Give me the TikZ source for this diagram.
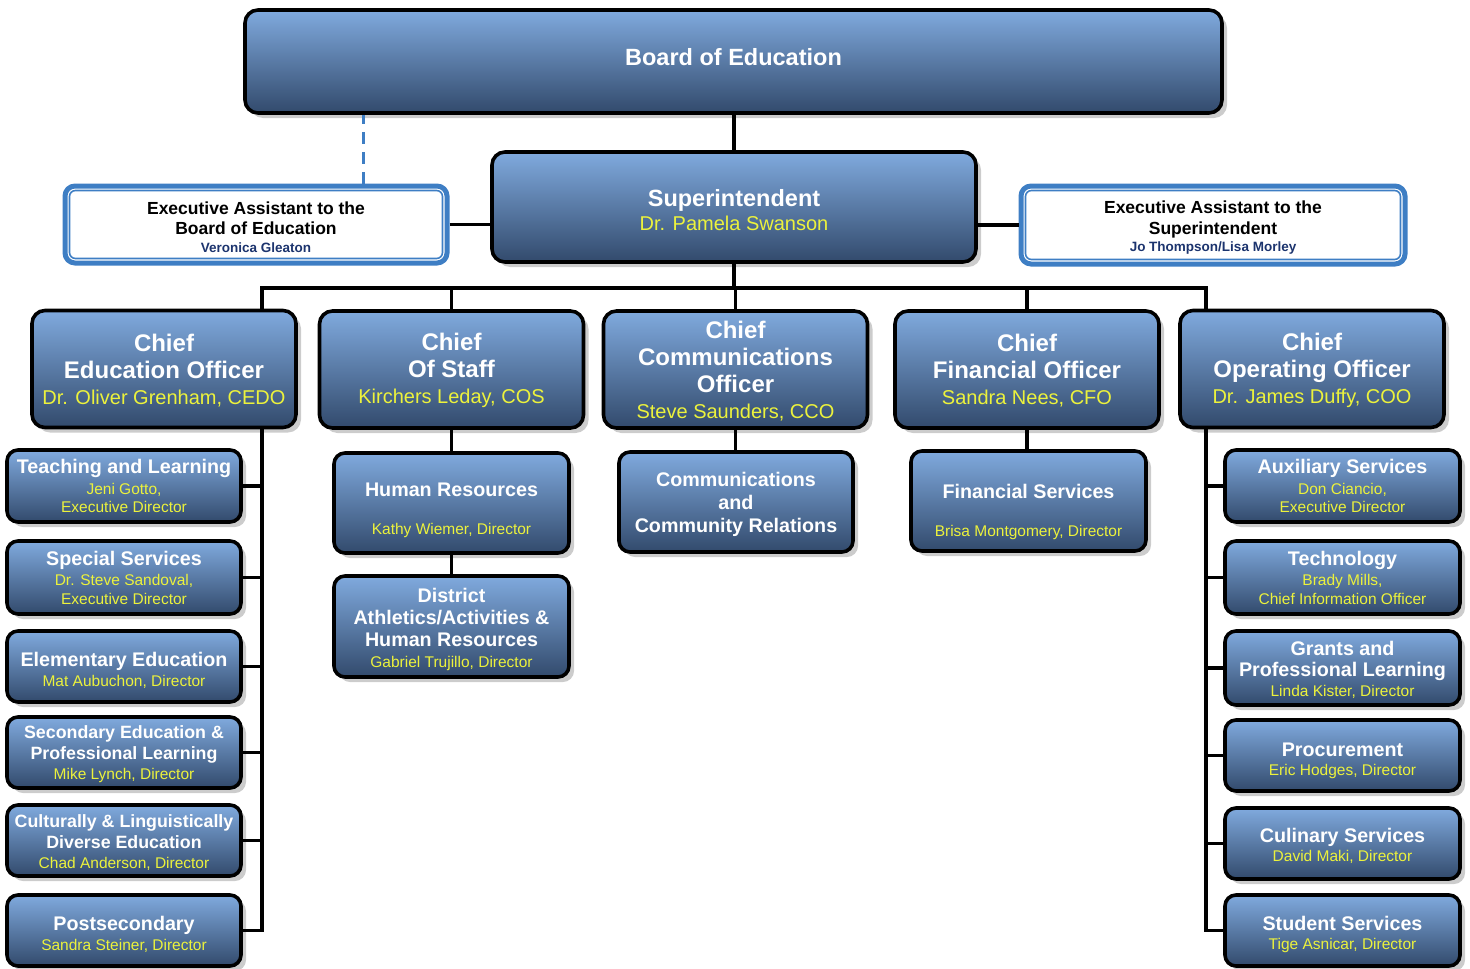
\documentclass[tikz,border=0pt]{standalone}
\usepackage{fontspec}
\setmainfont{Liberation Sans}
\usetikzlibrary{shadows}
\definecolor{boxtop}{RGB}{128,170,222}
\definecolor{boxbot}{RGB}{50,74,108}
\definecolor{ylw}{RGB}{236,242,60}
\definecolor{exblue}{RGB}{62,126,196}
\definecolor{exname}{RGB}{28,52,110}
\newcommand\cname[1]{{\mdseries\fontsize{20}{22}\selectfont\color{ylw}#1}}
\newcommand\subttl[1]{{\color{white}\bfseries\fontsize{19.7}{21}\selectfont #1}}
\newcommand\subttls[1]{{\color{white}\bfseries\fontsize{17.8}{20}\selectfont #1}}
\newcommand\exnm[1]{{\fontsize{13.5}{15}\selectfont\color{exname}#1}}
\newcommand\strt[1]{\rule{0pt}{#1}}
\tikzset{
  bx/.style={draw=black, line width=3.6pt, rounded corners=13pt,
    top color=boxtop, bottom color=boxbot,
    drop shadow={shadow xshift=5pt, shadow yshift=-5pt, opacity=0.4, fill=black!50},
    inner sep=0pt, align=center},
  chief/.style={bx, minimum width=264pt, minimum height=117pt,
    font=\fontsize{24}{27}\selectfont\bfseries, text=white},
  sub/.style={bx, rounded corners=11pt, minimum width=234pt,
    font=\fontsize{15.5}{18.5}\selectfont, text=ylw},
  ex/.style={draw=exblue, line width=5pt, fill=white, rounded corners=10pt,
    inner sep=0pt, align=center, font=\fontsize{17.5}{20.5}\selectfont\bfseries, text=black},
  exin/.style={draw=exblue, line width=1.6pt, rounded corners=6pt},
  conn/.style={draw=black, line width=3.5pt},
  dconn/.style={draw=exblue, line width=3pt, dash pattern=on 12pt off 8pt}
}
\begin{document}
\begin{tikzpicture}[x=1pt, y=-1pt]
\useasboundingbox (0,0) rectangle (1470,969);

\coordinate (dx) at (363,0);
\coordinate (busL) at (262,288);
\coordinate (busR) at (1206,288);

% top
\node[bx, minimum width=977pt, minimum height=103pt, font=\fontsize{23.5}{26}\selectfont\bfseries, text=white, text depth=9pt] (board) at (733.5,61.5) {Board of Education};
\node[bx, minimum width=484pt, minimum height=110pt, font=\fontsize{23.5}{26}\selectfont\bfseries, text=white] (super) at (734,207) {\strt{23pt}Superintendent\\[-2pt]\cname{Dr. Pamela Swanson}};

\node[ex, minimum width=382pt, minimum height=77pt] (eaL) at (256,224.5) {\strt{18pt}Executive Assistant to the\\Board of Education\\[-3pt]\exnm{Veronica Gleaton}};
\draw[exin] ([xshift=7pt,yshift=-7pt]eaL.north west) rectangle ([xshift=-7pt,yshift=7pt]eaL.south east);
\node[ex, minimum width=384pt, minimum height=78pt] (eaR) at (1213,225) {\strt{18pt}Executive Assistant to the\\Superintendent\\[-3pt]\exnm{Jo Thompson/Lisa Morley}};
\draw[exin] ([xshift=7pt,yshift=-7pt]eaR.north west) rectangle ([xshift=-7pt,yshift=7pt]eaR.south east);

% chiefs
\node[chief] (ceo) at (164,369) {\strt{20pt}Chief\\Education Officer\\[-1pt]\cname{Dr. Oliver Grenham, CEDO}};
\node[chief] (cos) at (451.5,369.5) {\strt{20pt}Chief\\Of Staff\\[-1pt]\cname{Kirchers Leday, COS}};
\node[chief] (cco) at (735.5,369.5) {\strt{21pt}Chief\\Communications\\Officer\\[-1pt]\cname{Steve Saunders, CCO}};
\node[chief] (cfo) at (1027,369.5) {\strt{20pt}Chief\\Financial Officer\\[-1pt]\cname{Sandra Nees, CFO}};
\node[chief] (coo) at (1312,369) {\strt{20pt}Chief\\Operating Officer\\[-1pt]\cname{Dr. James Duffy, COO}};

% left column
\node[sub, minimum height=72pt] (l1) at (124,486) {\subttl{Teaching and Learning}\\[2pt]Jeni Gotto,\\Executive Director};
\node[sub, minimum height=73pt] (l2) at (124,577.5) {\subttl{Special Services}\\[2pt]Dr. Steve Sandoval,\\Executive Director};
\node[sub, minimum height=71pt] (l3) at (124,666.5) {\strt{22pt}\subttl{Elementary Education}\\[1pt]Mat Aubuchon, Director};
\node[sub, minimum height=71pt] (l4) at (124,752.5) {\strt{17pt}\subttls{Secondary Education \&}\\[2.5pt]\subttls{Professional Learning}\\[1.5pt]Mike Lynch, Director};
\node[sub, minimum height=71pt] (l5) at (124,840.5) {\strt{17pt}\subttls{Culturally \& Linguistically}\\[2.5pt]\subttls{Diverse Education}\\[1.5pt]Chad Anderson, Director};
\node[sub, minimum height=71pt] (l6) at (124,930.5) {\strt{22pt}\subttl{Postsecondary}\\[1pt]Sandra Steiner, Director};

% middle columns
\node[sub, minimum width=235pt, minimum height=100pt] (hr) at (451.5,503) {\strt{28pt}\subttl{Human Resources}\\[19pt]Kathy Wiemer, Director};
\node[sub, minimum width=235pt, minimum height=101pt] (da) at (451.5,626.5) {\strt{20pt}\subttl{District}\\[3.5pt]\subttl{Athletics/Activities \&}\\[3.5pt]\subttl{Human Resources}\\[2pt]Gabriel Trujillo, Director};
\node[sub, minimum width=234pt, minimum height=100pt] (ccr) at (736,502) {\strt{20pt}\subttl{Communications}\\[4.5pt]\subttl{and}\\[4.5pt]\subttl{Community Relations}};
\node[sub, minimum width=235pt, minimum height=100pt] (fs) at (1028.5,501) {\strt{36pt}\subttl{Financial Services}\\[19pt]Brisa Montgomery, Director};

% right column
\node[sub, minimum width=235pt, minimum height=72pt] (r1) at (1342.5,486) {\subttl{Auxiliary Services}\\[2pt]Don Ciancio,\\Executive Director};
\node[sub, minimum width=235pt, minimum height=73pt] (r2) at (1342.5,577.5) {\subttl{Technology}\\[2pt]Brady Mills,\\Chief Information Officer};
\node[sub, minimum width=235pt, minimum height=74pt] (r3) at (1342.5,668) {\strt{17pt}\subttl{Grants and}\\[2.5pt]\subttl{Professional Learning}\\[1.5pt]Linda Kister, Director};
\node[sub, minimum width=235pt, minimum height=71pt] (r4) at (1342.5,755.5) {\strt{24pt}\subttl{Procurement}\\[1pt]Eric Hodges, Director};
\node[sub, minimum width=235pt, minimum height=71pt] (r5) at (1342.5,843.5) {\strt{19pt}\subttl{Culinary Services}\\[1pt]David Maki, Director};
\node[sub, minimum width=235pt, minimum height=71pt] (r6) at (1342.5,930.5) {\strt{22pt}\subttl{Student Services}\\[1pt]Tige Asnicar, Director};

% connectors
\draw[conn] (super.north) -- (super.north |- board.south);
\draw[dconn] (eaL.north -| dx) -- (board.south -| dx);
\draw[conn] (eaL.east) -- (eaL.east -| super.west);
\draw[conn] (eaR.west) -- (eaR.west -| super.east);
\draw[conn] (super.south) -- (super.south |- busL);
\draw[conn] (busL |- ceo.north) -- (busL) -- (busR) -- (busR |- coo.north);
\draw[conn] (cos.north) -- (cos.north |- busL);
\draw[conn] (cfo.north) -- (cfo.north |- busL);
\draw[conn] (cco.north) -- (cco.north |- busL);
\draw[conn] (busL |- ceo.south) -- (busL |- l6.east) -- (l6.east);
\foreach \n in {l1,l2,l3,l4,l5} \draw[conn] (\n.east) -- (\n.east -| busL);
\draw[conn] (busR |- coo.south) -- (busR |- r6.west) -- (r6.west);
\foreach \n in {r1,r2,r3,r4,r5} \draw[conn] (\n.west) -- (\n.west -| busR);
\draw[conn] (cos.south) -- (hr.north);
\draw[conn] (hr.south) -- (da.north);
\draw[conn] (cco.south) -- (cco.south |- ccr.north);
\draw[conn] (cfo.south) -- (cfo.south |- fs.north);
\end{tikzpicture}
\end{document}
